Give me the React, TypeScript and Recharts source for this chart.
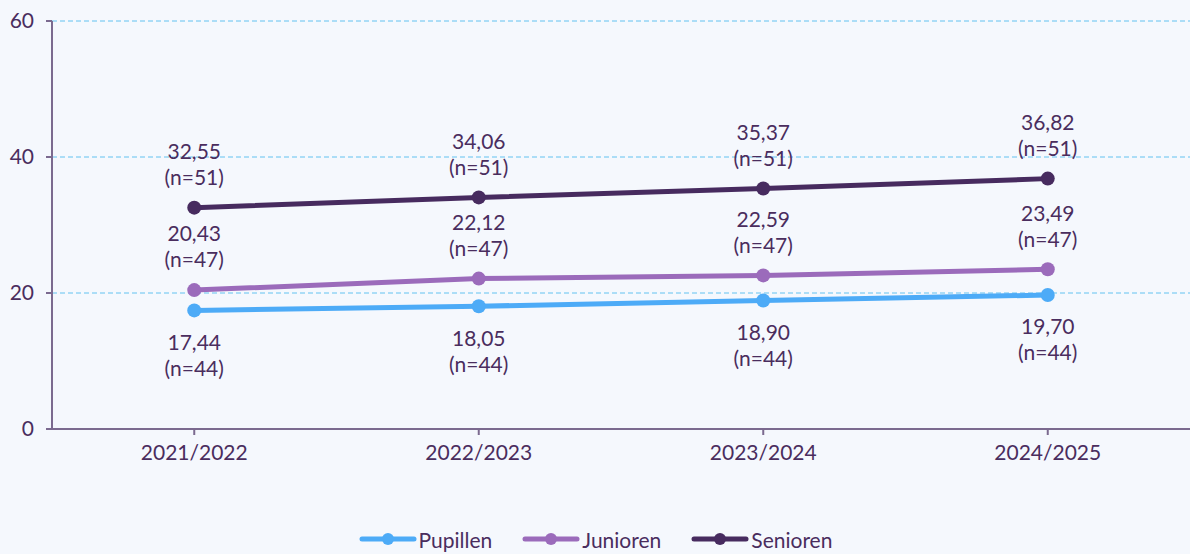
import React from 'react';
import { LineChart, Line, XAxis, YAxis, CartesianGrid, Legend, LabelList } from 'recharts';

const seasons = ['2021/2022', '2022/2023', '2023/2024', '2024/2025'];
const pupillen = [17.44, 18.05, 18.9, 19.7];
const junioren = [20.43, 22.12, 22.59, 23.49];
const senioren = [32.55, 34.06, 35.37, 36.82];
const counts = { pupillen: 44, junioren: 47, senioren: 51 };
const yTicks = [0, 20, 40, 60];

const TEXT = '#4a2d5e';
const AXIS = '#7b6a8f';
const SERIES = [
  { key: 'pupillen', name: 'Pupillen', color: '#4dabf7', below: true },
  { key: 'junioren', name: 'Junioren', color: '#9b6bbb', below: false },
  { key: 'senioren', name: 'Senioren', color: '#472b5f', below: false },
];

const data = seasons.map((s, i) => ({
  season: s,
  pupillen: pupillen[i],
  junioren: junioren[i],
  senioren: senioren[i],
}));

const fmt = (v: number) => v.toFixed(2).replace('.', ',');

// two-line label: value on top, sample size below
function makeLabel(n: number, below: boolean) {
  return (props: any) => {
    const { x, y, value } = props;
    const y1 = below ? y + 32 : y - 56;
    return (
      <text x={x} textAnchor="middle" fill={TEXT} fontSize={21} fontFamily="Lato">
        <tspan x={x} y={y1} dy="0.35em">{fmt(value)}</tspan>
        <tspan x={x} y={y1 + 26} dy="0.35em">(n={n})</tspan>
      </text>
    );
  };
}

function LegendContent() {
  return (
    <div style={{ display: 'flex', justifyContent: 'center', alignItems: 'center', height: 30, fontFamily: 'Lato', fontSize: 21, color: TEXT }}>
      {SERIES.map(s => (
        <div key={s.key} style={{ display: 'flex', alignItems: 'center', margin: '0 15px' }}>
          <svg width={58} height={16} style={{ marginRight: 2 }}>
            <line x1={3} y1={8} x2={55} y2={8} stroke={s.color} strokeWidth={5} strokeLinecap="round" />
            <circle cx={29} cy={8} r={6} fill={s.color} />
          </svg>
          <span>{s.name}</span>
        </div>
      ))}
    </div>
  );
}

export default function App() {
  return (
    <div style={{ position: 'absolute', left: 0, top: 0, width: 1190, height: 554, background: '#f5f8fd' }}>
      <LineChart width={1190} height={554} data={data} margin={{ top: 21, right: 0, left: 1, bottom: 0 }}>
        <CartesianGrid vertical={false} stroke="#62c2f0" strokeDasharray="5 3" horizontalValues={[20, 40, 60]} />
        <XAxis
          dataKey="season"
          scale="band"
          height={95}
          stroke={AXIS}
          strokeWidth={2}
          tickSize={6}
          tickMargin={10}
          tick={{ fill: TEXT, fontSize: 21, fontFamily: 'Lato' }}
        />
        <YAxis
          width={51}
          domain={[0, 60]}
          ticks={yTicks}
          stroke={AXIS}
          strokeWidth={2}
          tickSize={6}
          tickMargin={12}
          tick={{ fill: TEXT, fontSize: 21, fontFamily: 'Lato' }}
        />
        <Legend verticalAlign="bottom" content={<LegendContent />} />
        {SERIES.map(s => (
          <Line
            key={s.key}
            dataKey={s.key}
            name={s.name}
            stroke={s.color}
            strokeWidth={5}
            dot={{ r: 7, fill: s.color, stroke: s.color, strokeWidth: 0 }}
            isAnimationActive={false}
          >
            <LabelList dataKey={s.key} content={makeLabel((counts as any)[s.key], s.below)} />
          </Line>
        ))}
      </LineChart>
    </div>
  );
}
